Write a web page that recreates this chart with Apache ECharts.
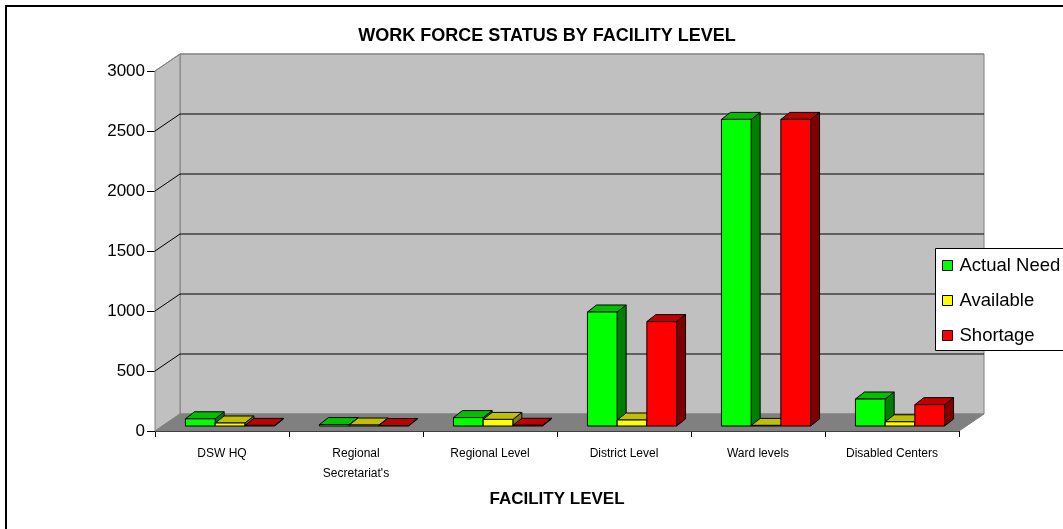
<!DOCTYPE html>
<html>
<head>
<meta charset="utf-8">
<script src="https://cdn.jsdelivr.net/npm/echarts@6/dist/echarts.min.js"></script>
<style>html,body{margin:0;padding:0;background:#fff}#c{width:1063px;height:529px}</style>
</head>
<body>
<div id="c"></div>
<script>
const categories = ['DSW HQ', "Regional\nSecretariat's", 'Regional Level', 'District Level', 'Ward levels', 'Disabled Centers'];
const actualNeed = [60, 12, 70, 950, 2555, 225];
const available = [25, 8, 55, 50, 5, 35];
const shortage = [5, 4, 6, 870, 2555, 178];
const yTicks = [0, 500, 1000, 1500, 2000, 2500, 3000];
const seriesNames = ['Actual Need', 'Available', 'Shortage'];
const FONT = "'Liberation Sans', Arial, sans-serif";

const palettes = [
  {front: '#00FF00', top: '#00C000', side: '#008000'},
  {front: '#FFFF00', top: '#C0C000', side: '#808000'},
  {front: '#FF0000', top: '#C00000', side: '#800000'}
];
const WALL = {dx: 25, dy: -17};

function barRenderer(si) {
  const pal = palettes[si];
  return function (params, api) {
    const cat = api.value(0), v = api.value(1);
    const cs = params.coordSys;
    const catW = cs.width / categories.length;
    const base = api.coord([cat, 0]);
    const topP = api.coord([cat, v]);
    const gw = catW * 0.665, bw = gw / 3;
    const sx = 8, sy = -5, dx = 9, dy = -7;
    const x0 = base[0] - gw / 2 + si * bw + sx;
    const x1 = x0 + bw;
    const by = base[1] + sy, ty = topP[1] + sy;
    const st = {stroke: '#000', lineWidth: 1};
    return {
      type: 'group',
      children: [
        {type: 'polygon', shape: {points: [[x1, ty], [x1 + dx, ty + dy], [x1 + dx, by + dy], [x1, by]]},
          style: Object.assign({fill: pal.side}, st)},
        {type: 'polygon', shape: {points: [[x0, ty], [x0 + dx, ty + dy], [x1 + dx, ty + dy], [x1, ty]]},
          style: Object.assign({fill: pal.top}, st)},
        {type: 'polygon', shape: {points: [[x0, ty], [x1, ty], [x1, by], [x0, by]]},
          style: Object.assign({fill: pal.front}, st)}
      ]
    };
  };
}

function wallRenderer(params, api) {
  const cs = params.coordSys;
  const L = cs.x, R = cs.x + cs.width, T = cs.y, B = cs.y + cs.height;
  const y = api.coord([0, api.value(1)])[1];
  const children = [];
  if (params.dataIndex === 0) {
    children.push(
      {type: 'polygon', shape: {points: [[L + WALL.dx, T + WALL.dy], [R + WALL.dx, T + WALL.dy], [R + WALL.dx, B + WALL.dy], [L + WALL.dx, B + WALL.dy]]},
        style: {fill: '#C0C0C0', stroke: '#808080', lineWidth: 1}},
      {type: 'polygon', shape: {points: [[L, T], [L + WALL.dx, T + WALL.dy], [L + WALL.dx, B + WALL.dy], [L, B]]},
        style: {fill: '#C0C0C0', stroke: '#808080', lineWidth: 1}},
      {type: 'polygon', shape: {points: [[L, B], [L + WALL.dx, B + WALL.dy], [R + WALL.dx, B + WALL.dy], [R, B]]},
        style: {fill: '#808080', stroke: '#808080', lineWidth: 1}}
    );
  }
  const isTop = api.value(1) === yTicks[yTicks.length - 1];
  const col = isTop ? '#808080' : '#000';
  if (api.value(1) !== 0) {
    children.push(
      {type: 'line', shape: {x1: L, y1: y, x2: L + WALL.dx, y2: y + WALL.dy}, style: {stroke: col, lineWidth: 1}},
      {type: 'line', shape: {x1: L + WALL.dx, y1: y + WALL.dy, x2: R + WALL.dx, y2: y + WALL.dy}, style: {stroke: col, lineWidth: 1}}
    );
  }
  return {type: 'group', children: children};
}

const chart = echarts.init(document.getElementById('c'), null, {renderer: 'canvas'});
const series = [{
  name: 'wall', type: 'custom', renderItem: wallRenderer, z: 1, silent: true,
  data: yTicks.map(v => [0, v]), encode: {x: 0, y: 1}
}];
[actualNeed, available, shortage].forEach((arr, si) => {
  series.push({
    name: seriesNames[si], type: 'custom', renderItem: barRenderer(si), z: 2 + si,
    itemStyle: {color: palettes[si].front},
    data: arr.map((v, i) => [i, v]), encode: {x: 0, y: 1}
  });
});

chart.setOption({
  animation: false,
  backgroundColor: '#fff',
  textStyle: {fontFamily: FONT},
  title: {
    text: 'WORK FORCE STATUS BY FACILITY LEVEL',
    left: 542, top: 22, textAlign: 'center',
    textStyle: {fontFamily: FONT, fontSize: 18, fontWeight: 'bold', color: '#000'}
  },
  legend: {
    data: seriesNames.map(n => ({name: n})),
    orient: 'vertical', left: 935, top: 248, z: 10,
    padding: [8, 4, 8, 7], itemGap: 16, itemWidth: 10, itemHeight: 10,
    icon: 'rect',
    itemStyle: {borderColor: '#000', borderWidth: 1},
    backgroundColor: 'transparent', borderWidth: 0,
    textStyle: {fontFamily: FONT, fontSize: 18.5, color: '#000', padding: [0, 0, 0, 2]}
  },
  graphic: [{
    type: 'rect', shape: {x: 6, y: 6, width: 1200, height: 700},
    style: {fill: null, stroke: '#000', lineWidth: 2}, silent: true, z: 100
  }, {
    type: 'rect', shape: {x: 935.5, y: 248.5, width: 200, height: 102},
    style: {fill: '#fff', stroke: '#000', lineWidth: 1}, silent: true, z: 8
  }],
  grid: {left: 155, right: 104, top: 71, bottom: 98},
  xAxis: {
    type: 'category', data: categories,
    name: 'FACILITY LEVEL', nameLocation: 'middle', nameGap: 60,
    nameTextStyle: {fontFamily: FONT, fontSize: 17, fontWeight: 'bold', color: '#000'},
    axisLine: {show: true, lineStyle: {color: '#000', width: 1}},
    axisTick: {show: true, length: 6, lineStyle: {color: '#000'}},
    axisLabel: {fontFamily: FONT, fontSize: 12, color: '#000', margin: 13, lineHeight: 20, interval: 0},
    splitLine: {show: false}
  },
  yAxis: {
    type: 'value', min: 0, max: 3000, interval: 500,
    axisLine: {show: true, lineStyle: {color: '#000', width: 1}},
    axisTick: {show: true, length: 8, lineStyle: {color: '#000'}},
    axisLabel: {fontFamily: FONT, fontSize: 17, color: '#000', margin: 10, formatter: v => String(v)},
    splitLine: {show: false}
  },
  series: series
});
</script>
</body>
</html>
